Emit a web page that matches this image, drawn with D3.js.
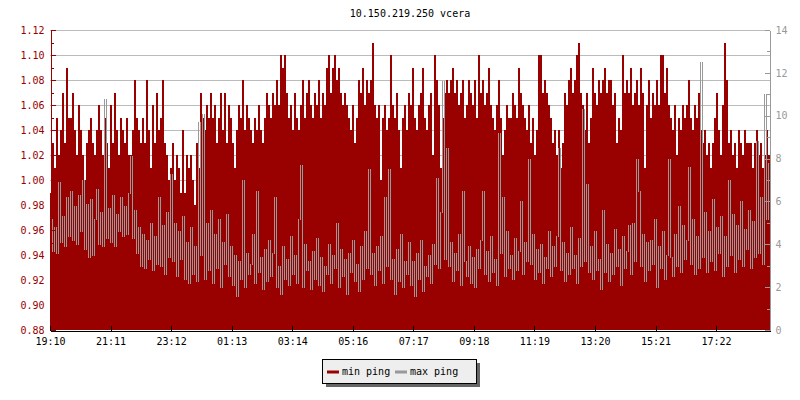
<!DOCTYPE html>
<html>
<head>
<meta charset="utf-8">
<script src="https://cdn.jsdelivr.net/npm/d3@7"></script>
<style>
  body { margin: 0; background: #fff; }
  text { font-family: "DejaVu Sans Mono", monospace; font-size: 10px; }
</style>
</head>
<body>
<svg id="chart" width="800" height="400"></svg>
<script>
// chart values (one sample per 4 minutes)
var title = "10.150.219.250 vcera";
var seriesNames = ["min ping", "max ping"];
var xTickLabels = ["19:10","21:11","23:12","01:13","03:14","05:16","07:17","09:18","11:19","13:20","15:21","17:22"];
var leftTicks = [0.88,0.90,0.92,0.94,0.96,0.98,1.00,1.02,1.04,1.06,1.08,1.10,1.12];
var leftMinor = [0.89,0.91,0.93,0.95,0.97,0.99,1.01,1.03,1.05,1.07,1.09,1.11];
var rightTicks = [0,2,4,6,8,10,12,14];
var rightMinor = [1,3,5,7,9,11,13];

var minPing = [
 0.99,1.03,1.01,1.05,1.02,1.04,1.07,1.03,1.09,1.05,
 1.05,1.07,1.04,1.02,1.06,1.04,1.02,1.00,1.03,1.04,
 1.05,1.03,1.02,1.04,1.06,1.04,1.02,1.05,1.03,1.01,
 1.06,1.03,1.07,1.04,1.02,1.05,1.04,1.03,1.05,1.02,
 1.02,1.04,1.08,1.05,1.04,1.03,1.05,1.03,1.08,1.04,
 1.01,1.06,1.03,1.07,1.04,1.05,1.08,1.03,1.02,1.00,
 1.01,1.03,1.00,1.02,1.01,0.99,1.04,0.99,1.02,1.01,
 1.02,1.00,0.98,1.03,1.01,1.07,1.05,1.04,1.06,1.05,
 1.07,1.05,1.06,1.03,1.05,1.07,1.04,1.07,1.03,1.06,
 1.05,1.03,1.01,1.04,1.06,1.05,1.08,1.04,1.06,1.05,
 1.04,1.03,1.05,1.04,1.06,1.04,1.03,1.05,1.07,1.06,
 1.05,1.07,1.06,1.08,1.06,1.10,1.09,1.10,1.07,1.05,
 1.06,1.04,1.07,1.05,1.04,1.06,1.08,1.05,1.07,1.08,
 1.06,1.05,1.07,1.06,1.08,1.05,1.07,1.06,1.09,1.10,
 1.07,1.09,1.10,1.08,1.09,1.07,1.06,1.07,1.06,1.05,
 1.04,1.06,1.03,1.05,1.08,1.07,1.09,1.06,1.08,1.07,
 1.08,1.11,1.06,1.05,1.06,1.00,1.05,1.06,1.04,1.05,
 1.10,1.06,1.05,1.07,1.04,1.01,1.05,1.06,1.04,1.07,
 1.06,1.09,1.05,1.04,1.06,1.07,1.09,1.05,1.04,1.06,
 1.07,1.02,1.10,1.08,1.06,1.01,1.05,1.07,1.08,1.07,
 1.08,1.09,1.07,1.08,1.06,1.07,1.08,1.05,1.06,1.08,
 1.07,1.06,1.08,1.05,1.10,1.07,1.08,1.06,1.07,1.09,
 1.06,1.05,1.04,1.06,1.08,1.05,1.02,1.04,1.06,1.05,
 1.05,1.07,1.06,1.05,1.09,1.07,1.06,1.05,1.04,1.06,
 1.03,1.05,1.02,1.04,1.10,1.10,1.07,1.08,1.07,1.06,
 1.05,1.03,1.04,1.02,1.04,1.01,1.03,1.07,1.06,1.08,
 1.09,1.07,1.08,1.10,1.11,1.07,1.06,1.04,1.07,1.03,
 1.05,1.09,1.07,1.06,1.08,1.07,1.08,1.09,1.07,1.08,
 1.08,1.06,1.07,1.03,1.05,1.04,1.10,1.07,1.08,1.07,
 1.09,1.06,1.07,1.08,1.06,1.09,1.07,1.01,1.06,1.08,
 1.05,1.07,1.06,1.08,1.06,1.10,1.10,1.07,1.09,1.06,
 1.05,1.04,1.06,1.02,1.05,1.04,1.06,1.05,1.06,1.08,
 1.05,1.04,1.06,1.05,1.07,1.04,1.03,1.04,1.02,1.03,
 1.01,1.03,1.05,1.07,1.04,1.02,1.06,1.11,1.08,1.03,
 1.04,1.02,1.03,1.01,1.04,1.03,1.02,1.04,1.03,1.03,
 1.03,1.01,1.03,1.04,1.02,1.03,1.01,1.02,1.04,1.02
];

var maxPing = [
 5.2,3.7,4.8,3.6,6.9,4.1,5.3,3.9,6.2,4.4,
 6.5,4.2,5.8,4.0,6.3,4.6,7.0,3.8,5.9,3.4,
 6.1,3.5,5.2,6.6,4.0,5.5,3.9,10.8,4.3,5.7,
 4.1,6.3,3.9,5.4,4.6,6.2,4.4,5.8,4.5,6.4,
 8.1,4.3,5.6,3.6,4.8,3.0,4.5,2.9,4.2,3.3,
 5.0,2.8,4.4,3.1,6.2,3.0,4.9,2.6,5.5,3.4,
 7.3,3.2,5.0,2.5,4.6,3.3,5.3,2.4,4.1,2.2,
 4.8,2.6,3.9,2.3,9.7,3.5,10.1,2.4,5.0,2.8,
 5.6,2.2,4.5,2.9,5.2,2.0,4.1,3.1,5.4,2.5,
 3.9,2.1,3.5,1.6,3.2,2.4,7.0,2.0,3.6,2.6,
 3.1,4.5,2.2,6.5,2.7,3.4,1.9,3.8,2.3,4.2,
 2.5,3.6,6.2,2.0,3.0,1.7,3.9,2.4,3.3,2.1,
 4.4,2.6,3.5,2.2,5.2,7.7,2.0,4.0,2.8,3.2,
 1.9,3.7,2.4,4.3,2.1,3.4,1.8,3.0,2.6,4.0,
 2.2,3.5,2.9,5.0,2.0,3.8,2.5,3.3,1.7,3.6,
 2.7,4.2,2.3,3.1,1.8,3.9,2.4,4.6,2.9,7.5,
 2.6,3.6,2.1,3.9,2.8,4.4,2.2,6.2,3.0,7.5,
 2.4,3.3,1.7,3.8,2.3,4.5,2.0,3.2,2.6,4.1,
 2.1,3.2,1.6,3.6,2.4,4.2,1.8,3.0,2.5,3.5,
 2.2,4.0,3.1,7.1,2.9,5.5,11.6,3.3,8.5,3.0,
 4.1,2.3,3.6,2.8,4.5,2.1,6.5,3.2,2.5,3.9,
 2.2,3.4,2.0,3.8,2.9,4.2,6.5,2.6,3.7,2.3,
 4.4,2.7,3.3,2.1,9.2,3.6,6.2,2.5,4.6,2.9,
 3.5,2.4,4.3,2.8,3.7,6.0,2.6,4.1,3.2,8.0,
 3.1,4.5,2.4,3.8,2.7,4.0,2.2,3.4,2.9,4.6,
 2.5,3.9,3.0,4.4,8.5,2.8,4.1,2.3,3.6,2.6,
 4.8,2.9,3.5,2.2,4.3,3.0,10.3,3.2,6.8,2.7,
 3.9,2.4,4.6,2.8,3.3,1.9,5.6,2.7,4.0,2.3,
 3.6,2.6,4.7,3.0,3.8,2.1,4.4,2.9,3.7,4.9,
 2.6,5.0,3.2,8.0,6.5,3.0,4.5,2.3,4.1,2.8,
 4.2,3.1,5.2,2.0,3.9,2.9,4.6,2.4,3.5,8.0,
 3.4,2.5,4.5,3.0,5.8,2.7,4.9,3.3,4.2,7.6,
 3.1,5.2,2.6,4.4,2.9,12.5,3.4,5.5,2.7,4.6,
 3.2,6.1,2.8,4.8,3.6,5.3,2.5,4.4,3.0,7.0,
 3.5,5.4,2.7,4.9,3.3,6.0,3.0,4.7,3.8,5.6,
 2.9,5.1,3.4,8.8,3.6,6.2,3.1,11.0,5.2,7.8
];

var red = "#990000", grey = "#999999";
var plotLeft = 50, plotRight = 770, plotTop = 30, plotBottom = 330;

var start = new Date(2020, 0, 1, 19, 10, 33);
var stepMs = 4 * 60000;
var end = new Date(start.getTime() + minPing.length * stepMs);
var times = minPing.map(function(d, i) { return new Date(start.getTime() + i * stepMs); });

var x = d3.scaleTime().domain([start, end]).range([plotLeft, plotRight]);
var yL = d3.scaleLinear().domain([0.88, 1.12]).range([plotBottom, plotTop]);
var yR = d3.scaleLinear().domain([0, 14]).range([plotBottom, plotTop]);

var svg = d3.select("#chart");

svg.append("text")
    .attr("x", 410).attr("y", 17)
    .attr("text-anchor", "middle")
    .attr("fill", "#000")
    .text(title);

// grid
svg.append("g").selectAll("line")
    .data(leftTicks.slice(1))
    .enter().append("line")
    .attr("x1", plotLeft).attr("x2", plotRight)
    .attr("y1", function(d) { return Math.round(yL(d)) + 0.5; })
    .attr("y2", function(d) { return Math.round(yL(d)) + 0.5; })
    .attr("stroke", "#bbbbbb");

// min ping bars
var bw = x(times[1]) - x(times[0]);
svg.append("g").attr("shape-rendering", "crispEdges")
    .selectAll("rect")
    .data(minPing)
    .enter().append("rect")
    .attr("x", function(d, i) { return x(times[i]); })
    .attr("width", bw)
    .attr("y", function(d) { return yL(d); })
    .attr("height", function(d) { return plotBottom - yL(d); })
    .attr("fill", red);

// max ping: line drawn as the vertical run between each pair of samples
var runs = d3.pairs(maxPing);
svg.append("g").attr("shape-rendering", "crispEdges")
    .selectAll("line")
    .data(runs)
    .enter().append("line")
    .attr("x1", function(d, i) { return x(times[i + 1]) + 0.5; })
    .attr("x2", function(d, i) { return x(times[i + 1]) + 0.5; })
    .attr("y1", function(d) { return Math.round(yR(Math.max(d[0], d[1]))); })
    .attr("y2", function(d) { return Math.round(yR(Math.min(d[0], d[1]))) + 1; })
    .attr("stroke", grey)
    .attr("stroke-width", 1);

// axes
function styleAxis(g, color) {
  g.selectAll("path, line").attr("stroke", color).attr("shape-rendering", "crispEdges");
  g.selectAll("text").attr("fill", color).attr("font-family", null).attr("font-size", null);
}

var gL = svg.append("g").attr("transform", "translate(" + (plotLeft + 0.5) + ",0)")
    .call(d3.axisLeft(yL).tickValues(leftTicks).tickFormat(d3.format(".2f"))
        .tickSizeInner(-5).tickSizeOuter(0).tickPadding(6));
styleAxis(gL, red);
var gLm = svg.append("g").attr("transform", "translate(" + (plotLeft + 0.5) + ",0)")
    .call(d3.axisLeft(yL).tickValues(leftMinor).tickFormat("")
        .tickSizeInner(-3).tickSizeOuter(0));
gLm.select(".domain").remove();
styleAxis(gLm, red);

var gR = svg.append("g").attr("transform", "translate(" + (plotRight - 0.5) + ",0)")
    .call(d3.axisRight(yR).tickValues(rightTicks)
        .tickSizeInner(-5).tickSizeOuter(0).tickPadding(6));
styleAxis(gR, grey);
var gRm = svg.append("g").attr("transform", "translate(" + (plotRight - 0.5) + ",0)")
    .call(d3.axisRight(yR).tickValues(rightMinor).tickFormat("")
        .tickSizeInner(-3).tickSizeOuter(0));
gRm.select(".domain").remove();
styleAxis(gRm, grey);

var tickStep = 121.1 * 60000;
var xTicks = xTickLabels.map(function(d, i) { return new Date(start.getTime() + i * tickStep); });
var gX = svg.append("g").attr("transform", "translate(0," + (plotBottom + 0.5) + ")")
    .call(d3.axisBottom(x).tickValues(xTicks)
        .tickFormat(function(d, i) { return xTickLabels[i]; })
        .tickSizeInner(-5).tickSizeOuter(0).tickPadding(7));
styleAxis(gX, "#000");

// legend
var lg = svg.append("g");
lg.append("rect").attr("x", 326).attr("y", 363).attr("width", 154).attr("height", 24).attr("fill", "#666");
lg.append("rect").attr("x", 322.5).attr("y", 359.5).attr("width", 154).attr("height", 24)
    .attr("fill", "#eeeeee").attr("stroke", "#000");
var items = [{ name: seriesNames[0], color: red, x: 327 }, { name: seriesNames[1], color: grey, x: 395 }];
items.forEach(function(it) {
  lg.append("line").attr("x1", it.x).attr("x2", it.x + 12).attr("y1", 372).attr("y2", 372)
      .attr("stroke", it.color).attr("stroke-width", 3);
  lg.append("text").attr("x", it.x + 15).attr("y", 375).attr("fill", "#000").text(it.name);
});
</script>
</body>
</html>
